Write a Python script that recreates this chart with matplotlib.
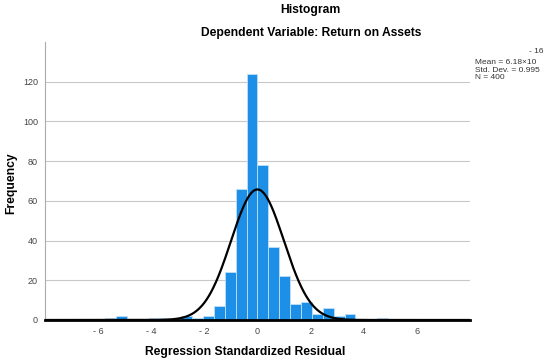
import numpy as np
import matplotlib
matplotlib.use("Agg")
import matplotlib.pyplot as plt

plt.rcParams['font.family'] = ['Liberation Sans', 'DejaVu Sans']

# Histogram data (bins of equal width, first bin starts 14 widths below 0)
bin_width = 0.41
first_bin = -14
counts = [1, 2, 0, 0, 1, 1, 0, 2, 1, 2, 7, 24, 66, 124,
          78, 37, 22, 8, 9, 3, 6, 2, 3, 0, 0, 1]

# Summary stats shown on the chart
n_obs = 400
mean = 6.18e-16
std_dev = 0.995

xticks = [-6, -4, -2, 0, 2, 4, 6]
xtick_labels = ['- 6', '- 4', '- 2', '0', '2', '4', '6']
yticks = [0, 20, 40, 60, 80, 100, 120]

fig = plt.figure(figsize=(5.5, 3.64), dpi=100)
ax = fig.add_axes([0.0818, 0.1209, 0.7727, 0.7637])

lefts = (np.arange(len(counts)) + first_bin) * bin_width
ax.bar(lefts, counts, width=bin_width, align='edge',
       color='#1E8FE6', edgecolor='#BFE0FA', linewidth=0.6, zorder=2)

# Normal curve
xs = np.linspace(-8, 8, 600)
pdf = np.exp(-0.5 * ((xs - mean) / std_dev) ** 2) / (std_dev * np.sqrt(2 * np.pi))
ax.plot(xs, n_obs * bin_width * pdf, color='black', lw=1.6, zorder=3)

ax.set_xlim(-8, 8)
ax.set_ylim(0, 140)
ax.set_xticks(xticks)
ax.set_xticklabels(xtick_labels)
ax.set_yticks(yticks)
ax.tick_params(length=0, labelsize=6.5, colors='#444444', pad=5)
ax.grid(axis='y', color='#C8C8C8', lw=0.8, zorder=0)
ax.set_axisbelow(True)

for s in ['top', 'right']:
    ax.spines[s].set_visible(False)
ax.spines['left'].set_color('#AAAAAA')
ax.spines['left'].set_linewidth(0.8)
ax.spines['bottom'].set_color('black')
ax.spines['bottom'].set_linewidth(2.0)
ax.spines['bottom'].set_zorder(4)

# Titles and labels
fig.text(0.565, 0.972, 'Histogram', ha='center', va='center',
         fontsize=8.7, fontweight='bold')
fig.text(0.565, 0.909, 'Dependent Variable: Return on Assets', ha='center',
         va='center', fontsize=8.7, fontweight='bold')
fig.text(0.02, 0.497, 'Frequency', ha='center', va='center', rotation=90,
         fontsize=8.7, fontweight='bold')
fig.text(0.445, 0.034, 'Regression Standardized Residual', ha='center',
         va='center', fontsize=8.7, fontweight='bold')

# Stats box
fig.text(0.988, 0.858, '- 16', ha='right', va='center', fontsize=6,
         color='#333333')
fig.text(0.864, 0.828, 'Mean = 6.18\u00d710', ha='left', va='center',
         fontsize=6, color='#333333')
fig.text(0.864, 0.806, 'Std. Dev. = %.3f' % std_dev, ha='left', va='center',
         fontsize=6, color='#333333')
fig.text(0.864, 0.786, 'N = %d' % n_obs, ha='left', va='center',
         fontsize=6, color='#333333')

fig.savefig('out.png', dpi=100)
